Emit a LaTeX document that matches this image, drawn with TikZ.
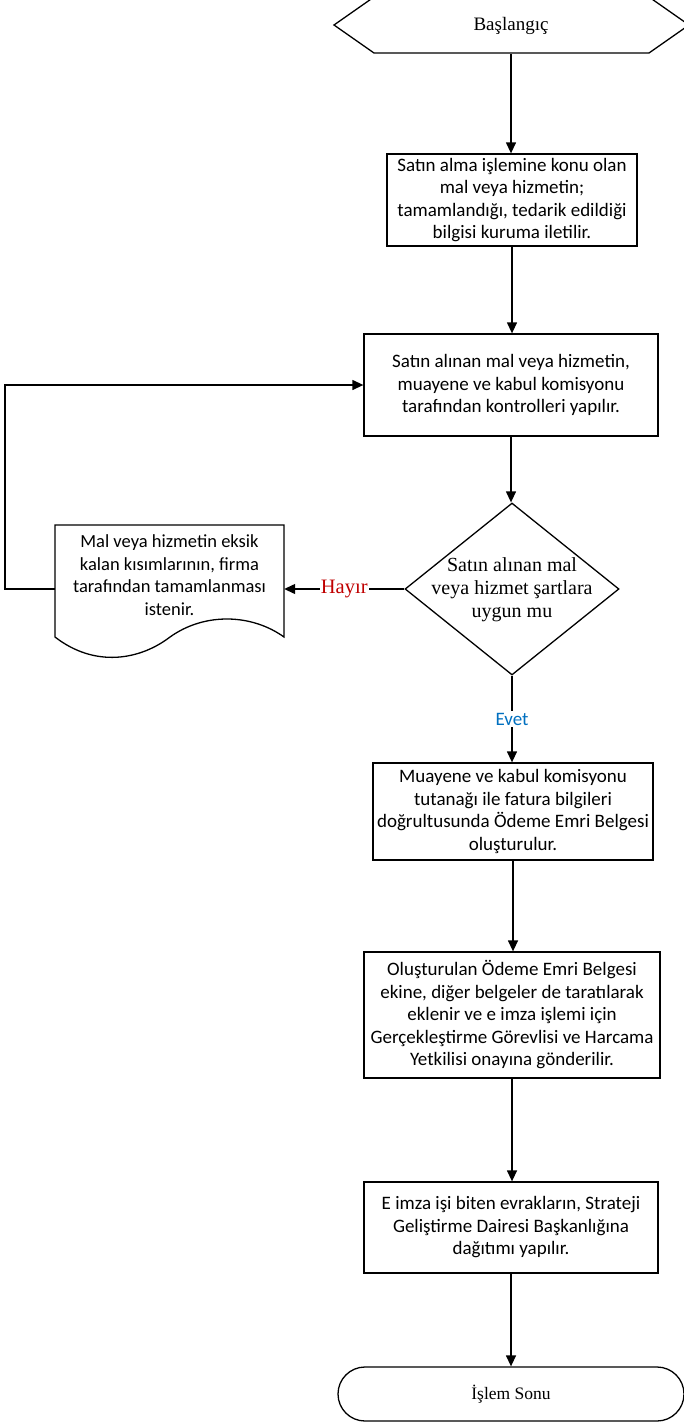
\documentclass[tikz,border=0pt]{standalone}
\usepackage{fontspec}
\setmainfont{Carlito}
\newfontfamily\serifx{Liberation Serif}
\usetikzlibrary{arrows.meta,shapes.geometric,calc}
\definecolor{hred}{RGB}{192,0,0}
\definecolor{eblue}{RGB}{0,112,192}
\begin{document}
\begin{tikzpicture}[x=1pt,y=-1pt,
  line/.style={line width=1.3pt},
  arr/.style={line width=1.3pt, -{Triangle[length=11pt,width=10pt]}},
  box/.style={draw, line width=1.3pt, align=center, font=\fontsize{19}{22.5}\selectfont, inner sep=0pt},
  ser/.style={font=\serifx\fontsize{19}{23}\selectfont, align=center}]
\useasboundingbox (0,0) rectangle (684,1424);
\clip (0,0) rectangle (684,1424);
% start hexagon
\node[ser, minimum height=56pt, inner sep=0pt] (start) at (511,26) {Başlangıç};
\draw[line] (334,25) -- (374,-3) -- (649,-3) -- (689,25) -- (649,53) -- (374,53) -- cycle;
% boxes
\node[box, minimum width=250pt, minimum height=92pt] (b1) at (512,200)
  {Satın alma işlemine konu olan\\mal veya hizmetin;\\tamamlandığı, tedarik edildiği\\bilgisi kuruma iletilir.};
\node[box, minimum width=294pt, minimum height=102pt] (b2) at (511,385)
  {Satın alınan mal veya hizmetin,\\muayene ve kabul komisyonu\\tarafından kontrolleri yapılır.};
\node[draw, line width=1.3pt, diamond, minimum width=214pt, minimum height=172pt, inner sep=0pt] (dia) at (512,589) {};
\node[font=\serifx\fontsize{20}{23}\selectfont, align=center] (diat) at (512,590) {Satın alınan mal\\veya hizmet şartlara\\uygun mu};
% document shape
\node[minimum width=229pt, minimum height=128pt, inner sep=0pt] (doc) at (169.5,589) {};
\node[align=center, font=\fontsize{18.5}{22.5}\selectfont] (doct) at (169.5,575)
  {Mal veya hizmetin eksik\\kalan kısımlarının, firma\\tarafından tamamlanması\\istenir.};
\draw[line] (55,637) -- (55,525) -- (284,525) -- (284,637)
  .. controls (252,614) and (205,612) .. (170,637)
  .. controls (140,660) and (95,668) .. cycle;
\coordinate (loopx) at (5,0);
\node[box, minimum width=280pt, minimum height=97pt] (b3) at (513,811.5)
  {Muayene ve kabul komisyonu\\tutanağı ile fatura bilgileri\\doğrultusunda Ödeme Emri Belgesi\\oluşturulur.};
\node[box, minimum width=296pt, minimum height=126pt] (b4) at (512,1015)
  {Oluşturulan Ödeme Emri Belgesi\\ekine, diğer belgeler de taratılarak\\eklenir ve e imza işlemi için\\Gerçekleştirme Görevlisi ve Harcama\\Yetkilisi onayına gönderilir.};
\node[box, minimum width=294pt, minimum height=91pt] (b5) at (511,1227.5)
  {E imza işi biten evrakların, Strateji\\Geliştirme Dairesi Başkanlığına\\dağıtımı yapılır.};
\node[draw, line width=1.3pt, rounded corners=27pt, minimum width=346pt, minimum height=54pt, font=\serifx\fontsize{17.5}{21}\selectfont, inner sep=0pt] (end) at (511,1394) {İşlem Sonu};
% connectors
\draw[arr] (start.south) -- (start.south |- b1.north);
\draw[arr] (b1.south) -- (b1.south |- b2.north);
\draw[arr] (b2.south) -- (b2.south |- dia.north);
\draw[arr] (dia.west) -- node[fill=white, inner sep=1pt, text=hred, font=\serifx\fontsize{20.5}{23}\selectfont] {Hayır} (doc.east);
\draw[arr] (doc.west) -- (doc.west -| loopx) |- (b2.west);
\draw[arr] (dia.south) -- node[fill=white, inner sep=2pt, text=eblue, font=\fontsize{19}{21}\selectfont] {Evet} (dia.south |- b3.north);
\draw[arr] (b3.south) -- (b3.south |- b4.north);
\draw[arr] (b4.south) -- (b4.south |- b5.north);
\draw[arr] (b5.south) -- (b5.south |- end.north);
\end{tikzpicture}
\end{document}
